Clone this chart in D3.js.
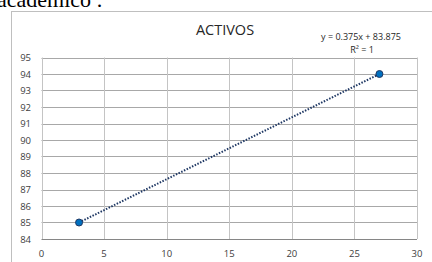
<!DOCTYPE html>
<html>
<head>
<meta charset="utf-8">
<script src="https://cdn.jsdelivr.net/npm/d3@7"></script>
<style>
  body { margin: 0; background: #fff; }
  svg { display: block; }
</style>
</head>
<body>
<div id="chart"></div>
<script>
var xValues = [3, 27];
var yValues = [85, 94];
var xTicks = [0, 5, 10, 15, 20, 25, 30];
var yTicks = [84, 85, 86, 87, 88, 89, 90, 91, 92, 93, 94, 95];
var title = "ACTIVOS";
var equation = "y = 0.375x + 83.875";
var rSquared = "R² = 1";

var width = 432, height = 262;
var svg = d3.select("#chart").append("svg")
  .attr("width", width).attr("height", height);

// text of the page, cut off above the chart
svg.append("text")
  .attr("x", -3).attr("y", 7)
  .attr("font-family", "Liberation Serif, serif")
  .attr("font-size", 22)
  .attr("fill", "#000")
  .text("académico :");

// chart frame
svg.append("rect")
  .attr("x", 11.5).attr("y", 11.5)
  .attr("width", 440).attr("height", 270)
  .attr("fill", "#fff")
  .attr("stroke", "#bfbfbf");

var x = d3.scaleLinear().domain([0, 30]).range([41.5, 417]);
var y = d3.scaleLinear().domain([84, 95]).range([239, 57.5]);

var grid = svg.append("g");
grid.selectAll("line.h").data(yTicks).enter().append("line")
  .attr("x1", x(0)).attr("x2", x(30))
  .attr("y1", function (d) { return Math.round(y(d)) + 0.5; })
  .attr("y2", function (d) { return Math.round(y(d)) + 0.5; })
  .attr("stroke", function (d) { return d === 84 ? "#868686" : "#a8a8a8"; })
  .attr("stroke-width", 1);
grid.selectAll("line.v").data(xTicks).enter().append("line")
  .attr("y1", y(84)).attr("y2", y(95))
  .attr("x1", function (d) { return Math.round(x(d)) + 0.5; })
  .attr("x2", function (d) { return Math.round(x(d)) + 0.5; })
  .attr("stroke", "#c4c4c4")
  .attr("stroke-width", 1);

var labelFont = "Open Sans, Liberation Sans, sans-serif";
svg.append("g").selectAll("text").data(yTicks).enter().append("text")
  .attr("x", 31).attr("y", function (d) { return y(d) + 3.5; })
  .attr("text-anchor", "end")
  .attr("font-family", labelFont).attr("font-size", 9.5)
  .attr("fill", "#404040")
  .text(function (d) { return d; });
svg.append("g").selectAll("text").data(xTicks).enter().append("text")
  .attr("x", function (d) { return x(d); }).attr("y", 257)
  .attr("text-anchor", "middle")
  .attr("font-family", labelFont).attr("font-size", 9.5)
  .attr("fill", "#404040")
  .text(function (d) { return d; });

// trendline
var fit = function (v) { return 0.375 * v + 83.875; };
svg.append("line")
  .attr("x1", x(xValues[0])).attr("y1", y(fit(xValues[0])))
  .attr("x2", x(xValues[1])).attr("y2", y(fit(xValues[1])))
  .attr("stroke", "#1f3864")
  .attr("stroke-width", 2)
  .attr("stroke-dasharray", "1.5,1.5");

svg.append("g").selectAll("circle").data(xValues).enter().append("circle")
  .attr("cx", function (d) { return x(d); })
  .attr("cy", function (d, i) { return y(yValues[i]); })
  .attr("r", 3.5)
  .attr("fill", "#0070c0")
  .attr("stroke", "#1f3864")
  .attr("stroke-width", 1);

svg.append("text")
  .attr("x", 225).attr("y", 35)
  .attr("text-anchor", "middle")
  .attr("font-family", labelFont).attr("font-size", 14.5)
  .attr("fill", "#262626")
  .text(title);

svg.append("text")
  .attr("x", 361).attr("y", 40)
  .attr("text-anchor", "middle")
  .attr("font-family", labelFont).attr("font-size", 9)
  .attr("fill", "#262626")
  .text(equation);
svg.append("text")
  .attr("x", 362).attr("y", 52.5)
  .attr("text-anchor", "middle")
  .attr("font-family", labelFont).attr("font-size", 9)
  .attr("fill", "#262626")
  .text(rSquared);
</script>
</body>
</html>
